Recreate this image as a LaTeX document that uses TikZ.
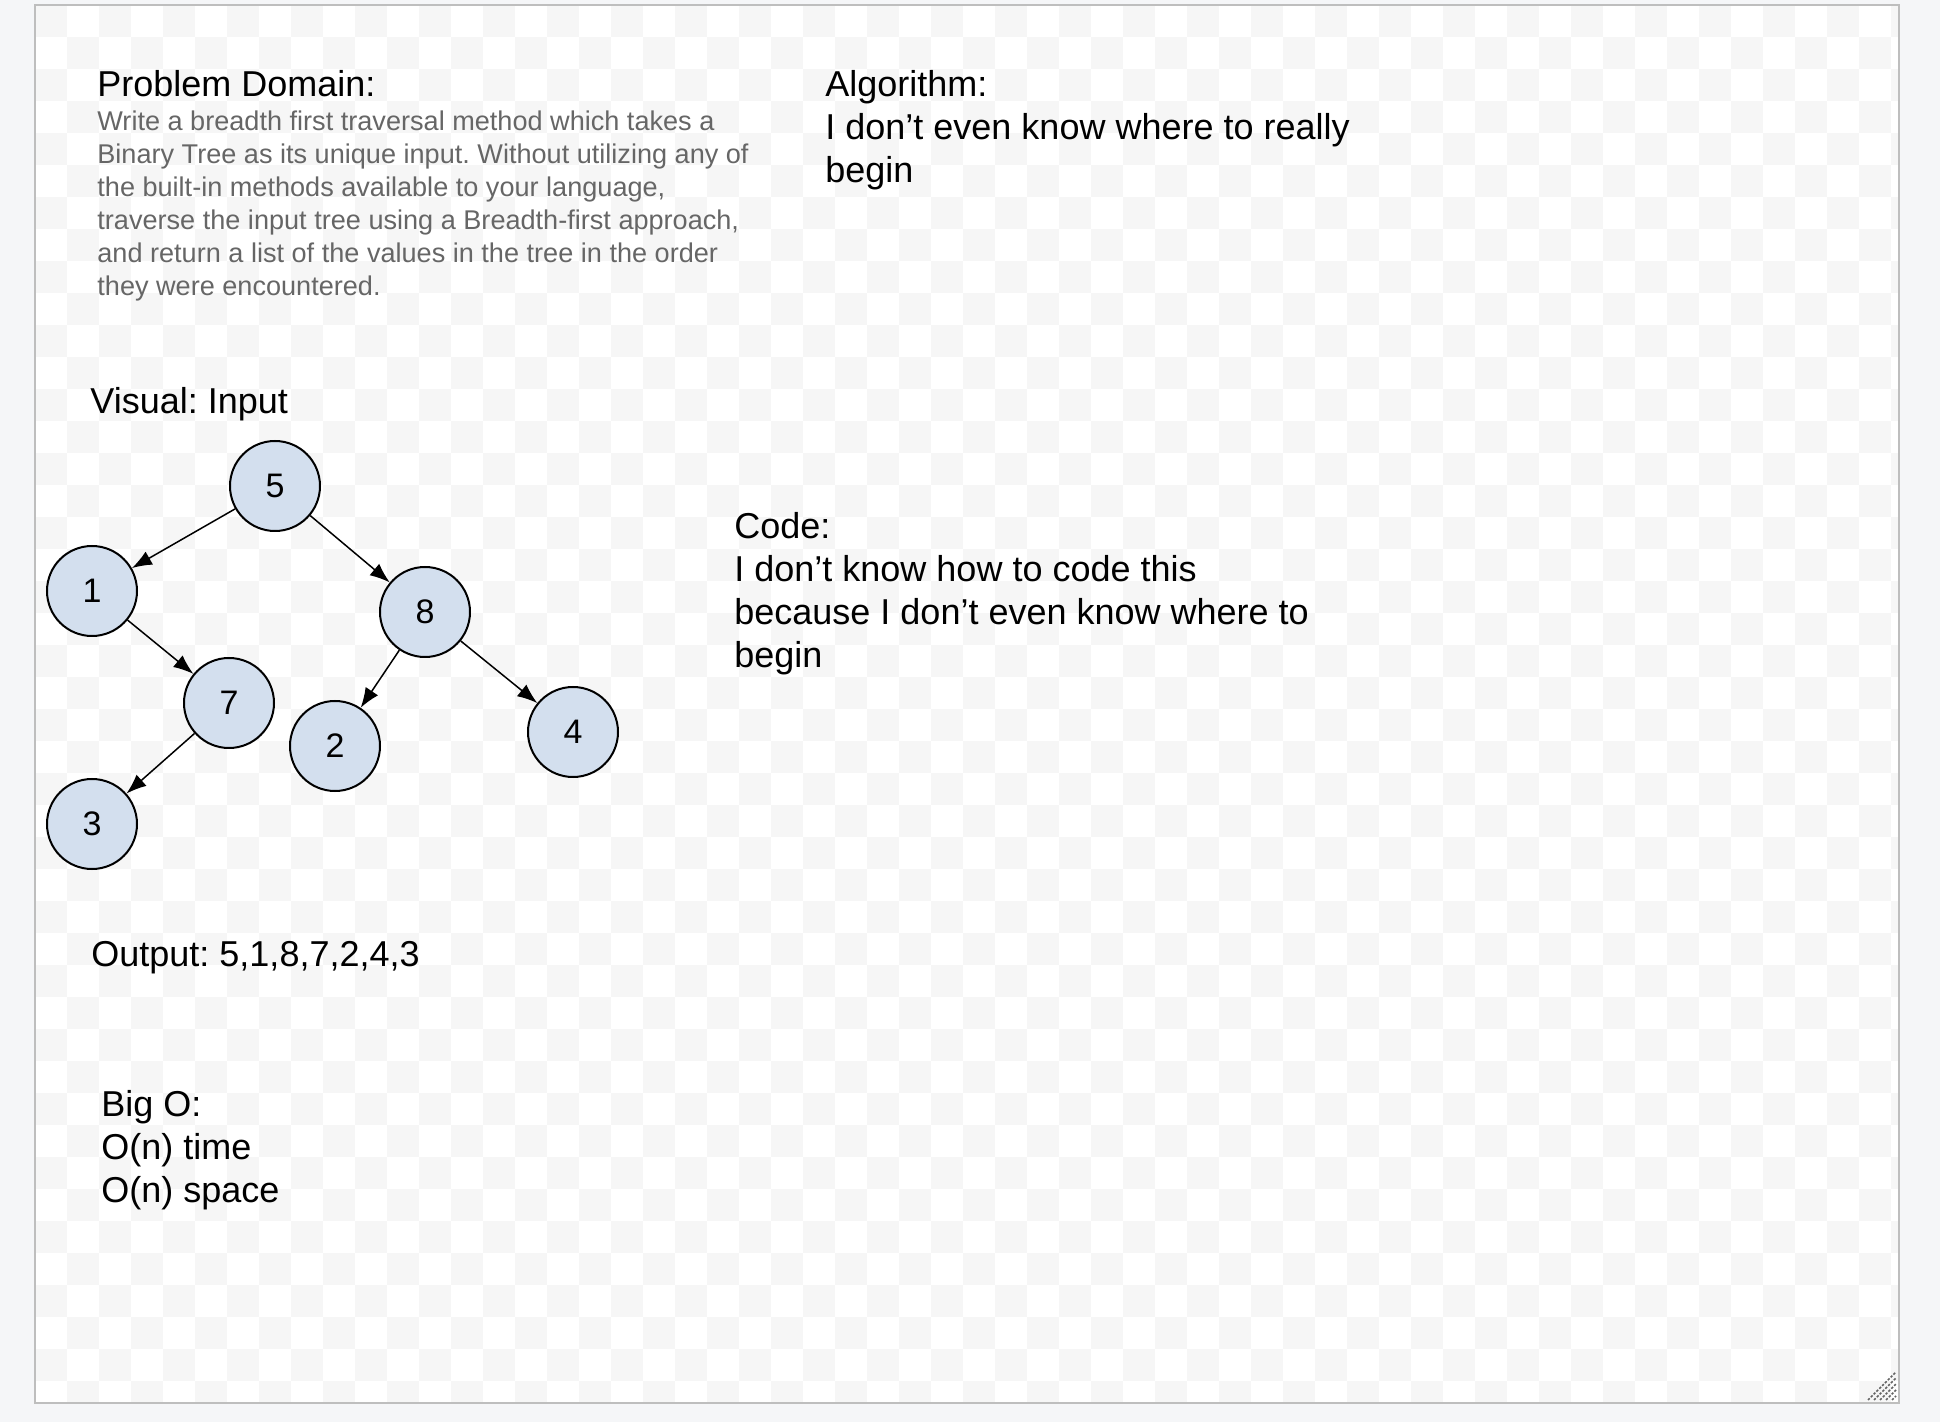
\documentclass[tikz,border=0pt]{standalone}
\usepackage{fontspec}
\setmainfont{Liberation Sans}
\frenchspacing
\usetikzlibrary{arrows.meta}

\definecolor{pagebg}{RGB}{245,246,248}
\definecolor{checker}{RGB}{246,246,246}
\definecolor{framegray}{RGB}{190,190,190}
\definecolor{nodeblue}{RGB}{211,223,238}
\definecolor{desctext}{RGB}{102,102,102}
\definecolor{gripgray}{RGB}{100,100,100}

\begin{document}
\begin{tikzpicture}[x=0.5pt, y=-0.5pt,
    heading/.style={anchor=north west, inner sep=0pt, align=left, font=\fontsize{18}{21.5}\selectfont},
    desc/.style={anchor=north west, inner sep=0pt, align=left, text=desctext, font=\fontsize{13.55}{16.5}\selectfont},
    vertex/.style={circle, draw=black, line width=1pt, fill=nodeblue, minimum size=45pt, inner sep=0pt, font=\fontsize{17}{20}\selectfont},
    branch/.style={-{Latex[length=10pt,width=7.5pt]}, line width=0.75pt}]
    \useasboundingbox (0,0) rectangle (1940,1422);
    \fill[pagebg] (0,0) rectangle (1940,1422);
    \fill[white] (35,5) rectangle (1899,1403);
    % checkerboard of the canvas
    \begin{scope}
        \clip (35,5) rectangle (1899,1403);
        \foreach \j in {0,...,43}{
            \pgfmathtruncatemacro{\off}{mod(\j,2)}
            \foreach \i in {0,2,...,58}{
                \fill[checker] ({35+32*(\i+\off)},{5+32*\j}) rectangle ++(32,32);
            }
        }
    \end{scope}
    \draw[framegray, line width=1pt] (35,5) rectangle (1899,1403);
    % resize grip
    \foreach \k in {0,...,4}{
        \draw[gripgray, line width=0.75pt, dash pattern=on 1.2pt off 0.8pt]
            ({3268+6*\k-1400},1400) -- (1896,{3268+6*\k-1896});
    }

    % texts
    \node[heading] (pd) at (97,70) {Problem Domain:};
    \node[desc] (pdtext) at (97,110) {Write a breadth first traversal method which takes a\\
        Binary Tree as its unique input. Without utilizing any of\\
        the built-in methods available to your language,\\
        traverse the input tree using a Breadth-first approach,\\
        and return a list of the values in the tree in the order\\
        they were encountered.};
    \node[heading] (alg) at (825,70) {Algorithm:\\I don’t even know where to really\\begin};
    \node[heading] (vis) at (90,387) {Visual: Input};
    \node[heading] (code) at (734,512) {Code:\\I don’t know how to code this\\because I don’t even know where to\\begin};
    \node[heading] (out) at (91,941) {Output: 5,1,8,7,2,4,3};
    \node[heading] (bigo) at (101,1090) {Big O:\\O(n) time\\O(n) space};

    % tree
    \node[vertex] (n5) at (275,486) {5};
    \node[vertex] (n1) at (92,591) {1};
    \node[vertex] (n8) at (425,612) {8};
    \node[vertex] (n7) at (229,703) {7};
    \node[vertex] (n2) at (335,746) {2};
    \node[vertex] (n4) at (573,732) {4};
    \node[vertex] (n3) at (92,824) {3};
    \draw[branch] (n5) -- (n1);
    \draw[branch] (n5) -- (n8);
    \draw[branch] (n1) -- (n7);
    \draw[branch] (n7) -- (n3);
    \draw[branch] (n8) -- (n2);
    \draw[branch] (n8) -- (n4);
\end{tikzpicture}
\end{document}
